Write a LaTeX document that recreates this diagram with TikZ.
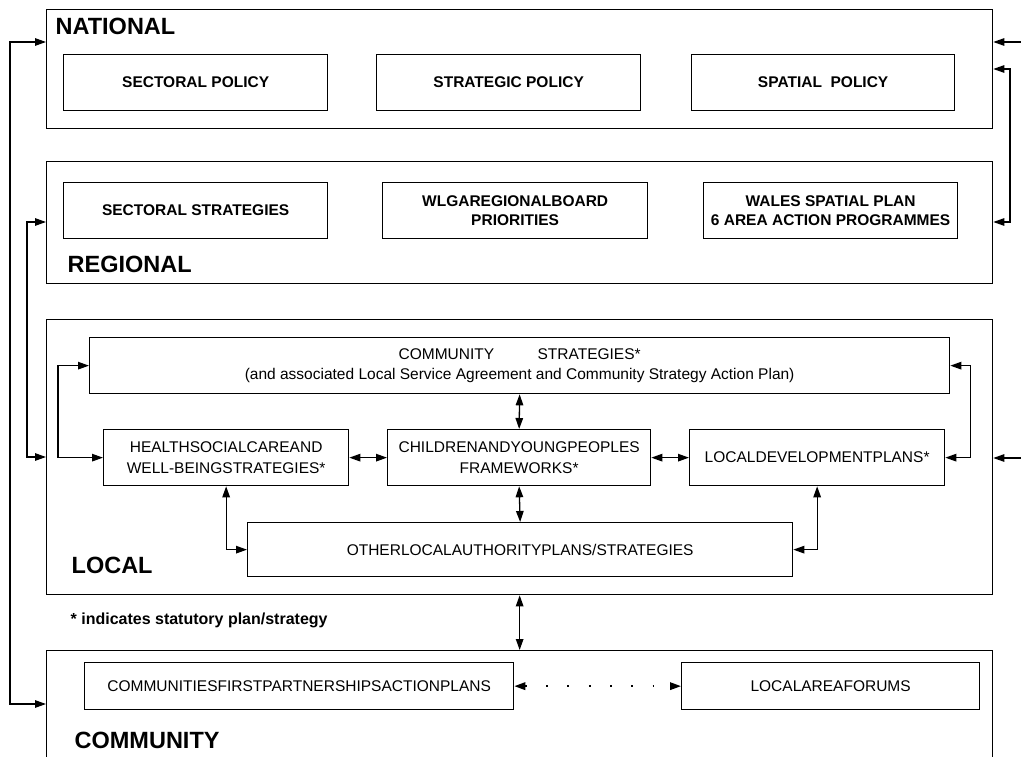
\documentclass[tikz,border=0pt]{standalone}
\usepackage{fontspec}
\setmainfont{Liberation Sans}
\usepackage{tikz}
\usetikzlibrary{arrows.meta}

\begin{document}
\begin{tikzpicture}[x=1pt, y=-1pt, line width=1.3pt, >={Triangle[length=11pt,width=7.5pt]},
  tier/.style={draw, anchor=north west, inner sep=0pt, minimum width=946pt},
  plan/.style={draw, anchor=north west, inner sep=0pt, align=center, font=\fontsize{15.5}{21}\selectfont},
  policy/.style={plan, font=\bfseries\fontsize{15.5}{19.5}\selectfont},
  level/.style={anchor=west, inner sep=0pt, font=\bfseries\fontsize{23.5}{26}\selectfont}]

\useasboundingbox (0,0) rectangle (1021,757);

\node[tier, minimum height=119pt] (national) at (46,9) {};
\node[tier, minimum height=122pt] (regional) at (46,161) {};
\node[tier, minimum height=275pt] (local) at (46,319) {};
\node[tier, minimum height=160pt] (community) at (46,650) {};

\node[level] (natlabel) at (55,26) {NATIONAL};
\node[level] (reglabel) at (67,264) {REGIONAL};
\node[level] (loclabel) at (71,565) {LOCAL};
\node[level] (comlabel) at (74,740) {COMMUNITY};

\node[policy, minimum width=264pt, minimum height=56pt] (secpol) at (63,54) {SECTORAL POLICY};
\node[policy, minimum width=264pt, minimum height=56pt] (strpol) at (376,54) {STRATEGIC POLICY};
\node[policy, minimum width=263pt, minimum height=56pt] (spapol) at (691,54) {SPATIAL\ \ POLICY};

\node[policy, minimum width=264pt, minimum height=56pt] (secstrat) at (63,182) {SECTORAL STRATEGIES};
\node[policy, minimum width=265pt, minimum height=56pt] (wlga) at (382,182) {WLGAREGIONALBOARD\\PRIORITIES};
\node[policy, minimum width=254pt, minimum height=56pt] (wsp) at (703,182) {WALES SPATIAL PLAN\\6 AREA ACTION PROGRAMMES};

\node[plan, minimum width=860pt, minimum height=56pt] (cs) at (89,337) {COMMUNITY\hspace{2.8em}STRATEGIES*\\[-1pt]
  (and associated Local Service Agreement and Community Strategy Action Plan)};
\node[plan, minimum width=245pt, minimum height=56pt] (health) at (103,429) {HEALTHSOCIALCAREAND\\WELL-BEINGSTRATEGIES*};
\node[plan, minimum width=263pt, minimum height=56pt] (cyp) at (387,429) {CHILDRENANDYOUNGPEOPLES\\FRAMEWORKS*};
\node[plan, minimum width=255pt, minimum height=56pt] (ldp) at (689,429) {LOCALDEVELOPMENTPLANS*};
\node[plan, minimum width=545pt, minimum height=54pt] (other) at (247,522) {OTHERLOCALAUTHORITYPLANS/STRATEGIES};

\node[anchor=west, inner sep=0pt, font=\bfseries\fontsize{16}{18}\selectfont] (note) at (70,620) {* indicates statutory plan/strategy};

\node[plan, minimum width=429pt, minimum height=47pt] (cfp) at (84,662) {COMMUNITIESFIRSTPARTNERSHIPSACTIONPLANS};
\node[plan, minimum width=298pt, minimum height=47pt] (laf) at (681,662) {LOCALAREAFORUMS};

\draw[<->] (national.west |- 0,42) -- (10,42) |- (community.west |- 0,704);
\draw[<->] (regional.west |- 0,222) -- (27,222) |- (local.west |- 0,457);
\draw[<-] (national.east |- 0,42) -- ++(30,0);
\draw[<->] (national.east |- 0,69) -- (1010,69) |- (regional.east |- 0,222);
\draw[<-] (local.east |- 0,458) -- ++(30,0);

\draw[<->] (cs.west) -- ++(-31,0) |- (health.west);
\draw[<->] (cs.east) -- ++(20,0) |- (ldp.east);
\draw[<->] (cs.south) -- (cyp.north);
\draw[<->] (cyp.south) -- (other.north);
\draw[<->] (health.east) -- (cyp.west);
\draw[<->] (cyp.east) -- (ldp.west);
\draw[<->] (health.south) |- (other.west);
\draw[<->] (ldp.south) |- (other.east);
\draw[<->] (local.south) -- (community.north);
\draw[<->, line width=1.8pt, dash pattern=on 1.8pt off 19.5pt] (cfp.east) -- (laf.west);

\end{tikzpicture}
\end{document}
